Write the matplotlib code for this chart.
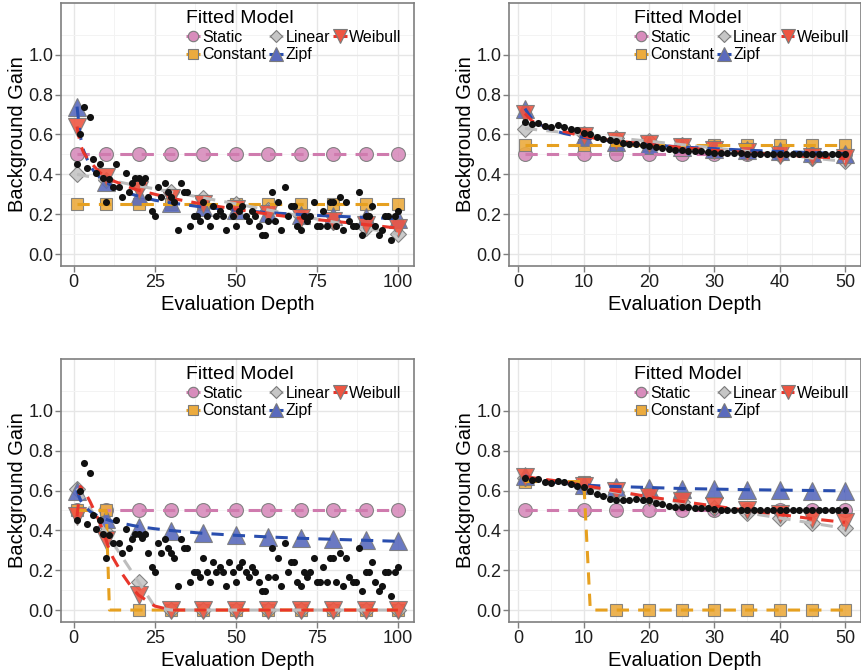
import numpy as np
import matplotlib
matplotlib.use("Agg")
import matplotlib.pyplot as plt
from matplotlib.lines import Line2D

plt.rcParams['font.family'] = ['Liberation Sans', 'DejaVu Sans']

# ------------------------------------------
# data
# ------------------------------------------
depth_100 = np.arange(1, 101)
depth_50 = np.arange(1, 51)

# observed background gain (same observations in both left panels)
obs_left = [0.45, 0.60, 0.74, 0.43, 0.69, 0.475, 0.405, 0.45, 0.38, 0.26,
            0.375, 0.335, 0.45, 0.335, 0.285, 0.405, 0.31, 0.355, 0.38, 0.38,
            0.36, 0.38, 0.285, 0.215, 0.19, 0.335, 0.285, 0.355, 0.31, 0.285,
            0.26, 0.12, 0.355, 0.31, 0.31, 0.14, 0.19, 0.19, 0.165, 0.26,
            0.19, 0.14, 0.24, 0.19, 0.215, 0.19, 0.12, 0.24, 0.19, 0.14,
            0.215, 0.24, 0.19, 0.165, 0.215, 0.19, 0.14, 0.095, 0.095, 0.165,
            0.31, 0.165, 0.26, 0.12, 0.335, 0.19, 0.24, 0.24, 0.14, 0.12,
            0.19, 0.165, 0.19, 0.26, 0.14, 0.14, 0.215, 0.14, 0.26, 0.26,
            0.14, 0.285, 0.12, 0.26, 0.165, 0.14, 0.14, 0.31, 0.095, 0.19,
            0.19, 0.24, 0.14, 0.095, 0.12, 0.19, 0.19, 0.07, 0.19, 0.215]

obs_top_right = [0.665, 0.655, 0.66, 0.645, 0.64, 0.65, 0.64, 0.63, 0.625, 0.61,
                 0.60, 0.585, 0.575, 0.57, 0.565, 0.555, 0.55, 0.55, 0.545, 0.54,
                 0.535, 0.53, 0.525, 0.52, 0.52, 0.515, 0.515, 0.515, 0.51, 0.508,
                 0.505, 0.505, 0.505, 0.505, 0.503, 0.503, 0.503, 0.502, 0.502, 0.502,
                 0.501, 0.501, 0.501, 0.501, 0.50, 0.50, 0.50, 0.50, 0.50, 0.50]

obs_bottom_right = [0.665, 0.655, 0.657, 0.645, 0.64, 0.65, 0.643, 0.632, 0.625, 0.618,
                    0.598, 0.583, 0.57, 0.558, 0.55, 0.55, 0.553, 0.556, 0.553, 0.55,
                    0.538, 0.53, 0.522, 0.518, 0.517, 0.515, 0.513, 0.513, 0.51, 0.506,
                    0.504, 0.503, 0.503, 0.502, 0.502, 0.502, 0.502, 0.501, 0.501, 0.501,
                    0.501, 0.50, 0.50, 0.50, 0.50, 0.50, 0.50, 0.50, 0.50, 0.50]

# depths where fitted models were evaluated
fit_x_100 = [1, 2, 3, 4, 5, 6, 8, 10, 11, 12, 15, 18, 20, 25, 30, 40, 50, 60, 70, 80, 90, 100]
fit_x_50 = [1, 2, 3, 5, 7, 10, 11, 12, 15, 20, 25, 30, 35, 40, 45, 50]
mark_x_100 = [1, 10, 20, 30, 40, 50, 60, 70, 80, 90, 100]
mark_x_50 = [1, 10, 15, 20, 25, 30, 35, 40, 45, 50]

models = ["Static", "Constant", "Linear", "Zipf", "Weibull"]

# top-left
tl_static = [0.5] * 22
tl_constant = [0.25] * 22
tl_linear = [0.400, 0.397, 0.394, 0.391, 0.388, 0.385, 0.379, 0.373, 0.370, 0.367, 0.358,
             0.348, 0.342, 0.327, 0.312, 0.282, 0.252, 0.221, 0.191, 0.161, 0.130, 0.100]
tl_zipf = [0.74, 0.59, 0.52, 0.48, 0.445, 0.42, 0.385, 0.36, 0.35, 0.34, 0.318,
           0.30, 0.29, 0.27, 0.257, 0.235, 0.22, 0.208, 0.198, 0.19, 0.184, 0.177]
tl_weibull = [0.64, 0.55, 0.51, 0.485, 0.465, 0.445, 0.41, 0.385, 0.375, 0.368, 0.35,
              0.33, 0.32, 0.30, 0.28, 0.25, 0.225, 0.20, 0.18, 0.165, 0.148, 0.13]

# bottom-left
bl_static = [0.5] * 22
bl_constant = [0.5, 0.5, 0.5, 0.5, 0.5, 0.5, 0.5, 0.5, 0, 0, 0,
               0, 0, 0, 0, 0, 0, 0, 0, 0, 0, 0]
bl_linear = [0.61, 0.585, 0.56, 0.536, 0.511, 0.486, 0.437, 0.39, 0.363, 0.338, 0.264,
             0.19, 0.14, 0.016, 0, 0, 0, 0, 0, 0, 0, 0]
bl_zipf = [0.60, 0.552, 0.526, 0.51, 0.495, 0.485, 0.468, 0.455, 0.45, 0.445, 0.435,
           0.425, 0.419, 0.408, 0.399, 0.385, 0.375, 0.367, 0.36, 0.355, 0.35, 0.345]
bl_weibull = [0.47, 0.62, 0.60, 0.575, 0.545, 0.51, 0.44, 0.35, 0.30, 0.265, 0.18,
              0.11, 0.075, 0.02, 0, 0, 0, 0, 0, 0, 0, 0]

# top-right
tr_static = [0.5] * 16
tr_constant = [0.545] * 16
tr_linear = [0.63, 0.627, 0.623, 0.617, 0.61, 0.60, 0.596, 0.593, 0.583, 0.566, 0.549,
             0.532, 0.515, 0.499, 0.482, 0.465]
tr_zipf = [0.73, 0.68, 0.655, 0.624, 0.605, 0.585, 0.58, 0.576, 0.564, 0.549, 0.537,
           0.529, 0.521, 0.515, 0.509, 0.504]
tr_weibull = [0.705, 0.67, 0.65, 0.63, 0.615, 0.59, 0.585, 0.58, 0.568, 0.55, 0.535,
              0.52, 0.51, 0.498, 0.488, 0.48]

# bottom-right
br_static = [0.5] * 16
br_constant = [0.645, 0.645, 0.645, 0.645, 0.645, 0.645, 0, 0, 0, 0, 0, 0, 0, 0, 0, 0]
br_linear = [0.665, 0.66, 0.655, 0.644, 0.634, 0.618, 0.613, 0.608, 0.592, 0.566, 0.54,
             0.514, 0.488, 0.462, 0.436, 0.41]
br_zipf = [0.675, 0.66, 0.652, 0.643, 0.636, 0.628, 0.626, 0.624, 0.62, 0.615, 0.61,
           0.607, 0.604, 0.602, 0.60, 0.598]
br_weibull = [0.67, 0.665, 0.66, 0.652, 0.643, 0.625, 0.62, 0.614, 0.597, 0.568, 0.545,
              0.522, 0.5, 0.48, 0.458, 0.44]

# ------------------------------------------
# styles
# ------------------------------------------
style = {
    "Static":   dict(line="#CF7BAE", fill="#D88CBC", marker="o", ms=10),
    "Constant": dict(line="#E6A020", fill="#ECAB3E", marker="s", ms=9),
    "Linear":   dict(line="#BDBDBD", fill="#C6C6C6", marker="D", ms=8.5),
    "Zipf":     dict(line="#2A4EAE", fill="#5A6ABD", marker="^", ms=12.5),
    "Weibull":  dict(line="#E8362B", fill="#EE5642", marker="v", ms=12.5),
}
EDGE = "#7A7A7A"
DASH = (4, 3)


def draw_panel(ax, obs_x, obs_y, fit_x, fits, mark_x, xticks, xminor, xlim):
    fit_x = np.asarray(fit_x)
    sel = np.isin(fit_x, mark_x)
    for name in models:
        s = style[name]
        y = np.asarray(fits[name])
        ax.plot(fit_x[sel], y[sel], linestyle="none", marker=s["marker"],
                markersize=s["ms"], markerfacecolor=s["fill"],
                markeredgecolor=EDGE, markeredgewidth=0.8, alpha=0.9, zorder=3)
    for name in models:
        s = style[name]
        ax.plot(fit_x, fits[name], color=s["line"], lw=2.2, dashes=DASH,
                zorder=4, dash_capstyle="butt")
    ax.scatter(obs_x, obs_y, s=26, color="#111111", zorder=5, linewidths=0)

    ax.set_xlim(*xlim)
    ax.set_ylim(-0.06, 1.26)
    ax.set_xticks(xticks)
    ax.set_xticks(xminor, minor=True)
    ax.set_yticks([0.0, 0.2, 0.4, 0.6, 0.8, 1.0])
    ax.set_yticklabels(["0.0", "0.2", "0.4", "0.6", "0.8", "1.0"])
    ax.set_yticks([0.1, 0.3, 0.5, 0.7, 0.9, 1.1], minor=True)
    ax.grid(which="major", color="#E6E6E6", lw=1.0, zorder=0)
    ax.grid(which="minor", color="#F3F3F3", lw=0.7, zorder=0)
    ax.set_axisbelow(True)
    ax.tick_params(which="major", length=4, width=1.0, color="#7F7F7F",
                   labelsize=13, labelcolor="#1E1E1E", pad=1.5)
    ax.tick_params(which="minor", length=0)
    for sp in ax.spines.values():
        sp.set_color("#7F7F7F")
        sp.set_linewidth(1.2)
    ax.set_xlabel("Evaluation Depth", fontsize=14.5, labelpad=3)
    ax.set_ylabel("Background Gain", fontsize=14.5, labelpad=1)

    handles = []
    for name in models:
        s = style[name]
        handles.append(Line2D([], [], color=s["line"], lw=2.2, dashes=(2, 1),
                              marker=s["marker"], markersize=s["ms"] * 0.75,
                              markerfacecolor=s["fill"], markeredgecolor=EDGE,
                              markeredgewidth=0.8))
    leg = ax.legend(handles, models, title="Fitted Model", ncol=3,
                    loc="upper left", bbox_to_anchor=(0.355, 0.972),
                    frameon=False, fontsize=11.5, title_fontsize=14,
                    handlelength=0.85, handletextpad=0.15, columnspacing=0.2,
                    labelspacing=0.15, borderpad=0.0, borderaxespad=0.0)
    leg._legend_box.align = "left"


W, H = 862, 672
fig = plt.figure(figsize=(W / 100, H / 100), dpi=100)


def px_axes(left, top, right, bottom):
    return fig.add_axes([left / W, 1 - bottom / H, (right - left) / W, (bottom - top) / H])


ax_tl = px_axes(61, 3, 414, 266)
ax_tr = px_axes(509, 3, 861, 266)
ax_bl = px_axes(61, 359, 414, 622)
ax_br = px_axes(509, 359, 861, 622)

lim100 = (-3.95, 104.95)
lim50 = (-1.45, 52.45)
ticks100 = [0, 25, 50, 75, 100]
minor100 = [12.5, 37.5, 62.5, 87.5]
ticks50 = [0, 10, 20, 30, 40, 50]
minor50 = [5, 15, 25, 35, 45]

draw_panel(ax_tl, depth_100, obs_left, fit_x_100,
           dict(Static=tl_static, Constant=tl_constant, Linear=tl_linear, Zipf=tl_zipf, Weibull=tl_weibull),
           mark_x_100, ticks100, minor100, lim100)
draw_panel(ax_tr, depth_50, obs_top_right, fit_x_50,
           dict(Static=tr_static, Constant=tr_constant, Linear=tr_linear, Zipf=tr_zipf, Weibull=tr_weibull),
           mark_x_50, ticks50, minor50, lim50)
draw_panel(ax_bl, depth_100, obs_left, fit_x_100,
           dict(Static=bl_static, Constant=bl_constant, Linear=bl_linear, Zipf=bl_zipf, Weibull=bl_weibull),
           mark_x_100, ticks100, minor100, lim100)
draw_panel(ax_br, depth_50, obs_bottom_right, fit_x_50,
           dict(Static=br_static, Constant=br_constant, Linear=br_linear, Zipf=br_zipf, Weibull=br_weibull),
           mark_x_50, ticks50, minor50, lim50)

fig.savefig("out.png", dpi=100)
